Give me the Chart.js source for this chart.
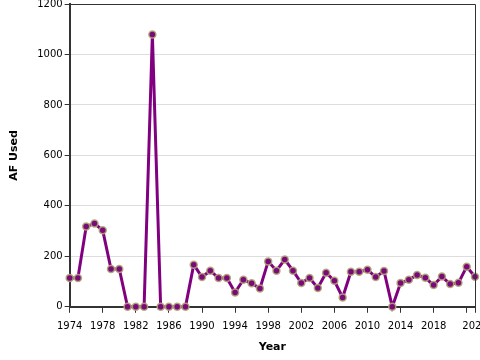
<!DOCTYPE html>
<html>
<head>
<meta charset="utf-8">
<script src="https://cdn.jsdelivr.net/npm/chart.js@4"></script>
<style>
  html, body { margin: 0; padding: 0; overflow: hidden; background: #fff; }
  #wrap { width: 500px; height: 364px; margin-top: -4px; }
</style>
</head>
<body>
<div id="wrap"><canvas id="grafico" width="500" height="364"></canvas></div>
<script>
const years = [1974, 1975, 1976, 1977, 1978, 1979, 1980, 1981, 1982, 1983,
               1984, 1985, 1986, 1987, 1988, 1989, 1990, 1991, 1992, 1993,
               1994, 1995, 1996, 1997, 1998, 1999, 2000, 2001, 2002, 2003,
               2004, 2005, 2006, 2007, 2008, 2009, 2010, 2011, 2012, 2013,
               2014, 2015, 2016, 2017, 2018, 2019, 2020, 2021, 2022, 2023];
const afUsed = [114, 114, 318, 330, 303, 150, 150, 0, 0, 0,
                1079, 0, 0, 0, 0, 167, 118, 143, 114, 114,
                57, 107, 93, 73, 180, 143, 187, 143, 94, 114,
                75, 135, 103, 37, 139, 139, 147, 118, 142, 0,
                94, 107, 126, 115, 86, 120, 90, 95, 159, 119];
const yearTicks = [1974, 1978, 1982, 1986, 1990, 1994, 1998, 2002, 2006, 2010, 2014, 2018, 2022, 2023];
const hiddenYearLabels = [2022];
const yTicks = [0, 200, 400, 600, 800, 1000, 1200];

// frame around the plot (top + right edge)
const frame = {
    id: 'frame',
    afterDatasetsDraw(chart) {
        const a = chart.chartArea;
        const c = chart.ctx;
        c.save();
        c.strokeStyle = '#333';
        c.lineWidth = 1;
        c.beginPath();
        c.moveTo(a.left, a.top + 0.5);
        c.lineTo(a.right + 0.5, a.top + 0.5);
        c.lineTo(a.right + 0.5, a.bottom);
        c.stroke();
        c.restore();
    }
};

Chart.defaults.font.family = '"DejaVu Sans", sans-serif';
Chart.defaults.font.size = 10;
Chart.defaults.color = '#000';

const ctx = document.getElementById('grafico');
new Chart(ctx, {
    type: 'line',
    data: {
        datasets: [{
            label: 'AF Used',
            data: years.map((y, i) => ({ x: y, y: afUsed[i] })),
            borderColor: '#800080',
            borderWidth: 3,
            pointRadius: 3.5,
            pointBackgroundColor: '#7a0a7a',
            pointBorderColor: 'rgba(176, 166, 118, 0.9)',
            pointBorderWidth: 1.5,
            tension: 0,
            clip: false
        }]
    },
    plugins: [frame],
    options: {
        responsive: false,
        animation: false,
        layout: { padding: { top: 0, right: 25, bottom: 2, left: 0 } },
        plugins: {
            legend: { display: false },
            tooltip: { enabled: false }
        },
        scales: {
            x: {
                type: 'linear',
                min: 1974,
                max: 2023,
                afterBuildTicks: (axis) => { axis.ticks = yearTicks.map(v => ({ value: v })); },
                ticks: {
                    autoSkip: false,
                    maxRotation: 0,
                    padding: 8,
                    callback: (v) => hiddenYearLabels.includes(v) ? '' : String(v)
                },
                grid: {
                    drawOnChartArea: false,
                    drawTicks: true,
                    tickLength: 6,
                    tickColor: '#333'
                },
                border: { color: '#333', width: 2 },
                title: {
                    display: true,
                    text: 'Year',
                    font: { size: 11, weight: 'bold' },
                    padding: { top: 0, bottom: 4 }
                }
            },
            y: {
                min: 0,
                max: 1200,
                afterBuildTicks: (axis) => { axis.ticks = yTicks.map(v => ({ value: v })); },
                ticks: { padding: 2, callback: (v) => String(v) },
                grid: {
                    color: '#ddd',
                    tickColor: '#333',
                    tickLength: 5
                },
                border: { color: '#333', width: 2 },
                title: {
                    display: true,
                    text: 'AF Used',
                    font: { size: 11, weight: 'bold' },
                    padding: { top: 8, bottom: 14 }
                }
            }
        }
    }
});
</script>
</body>
</html>
